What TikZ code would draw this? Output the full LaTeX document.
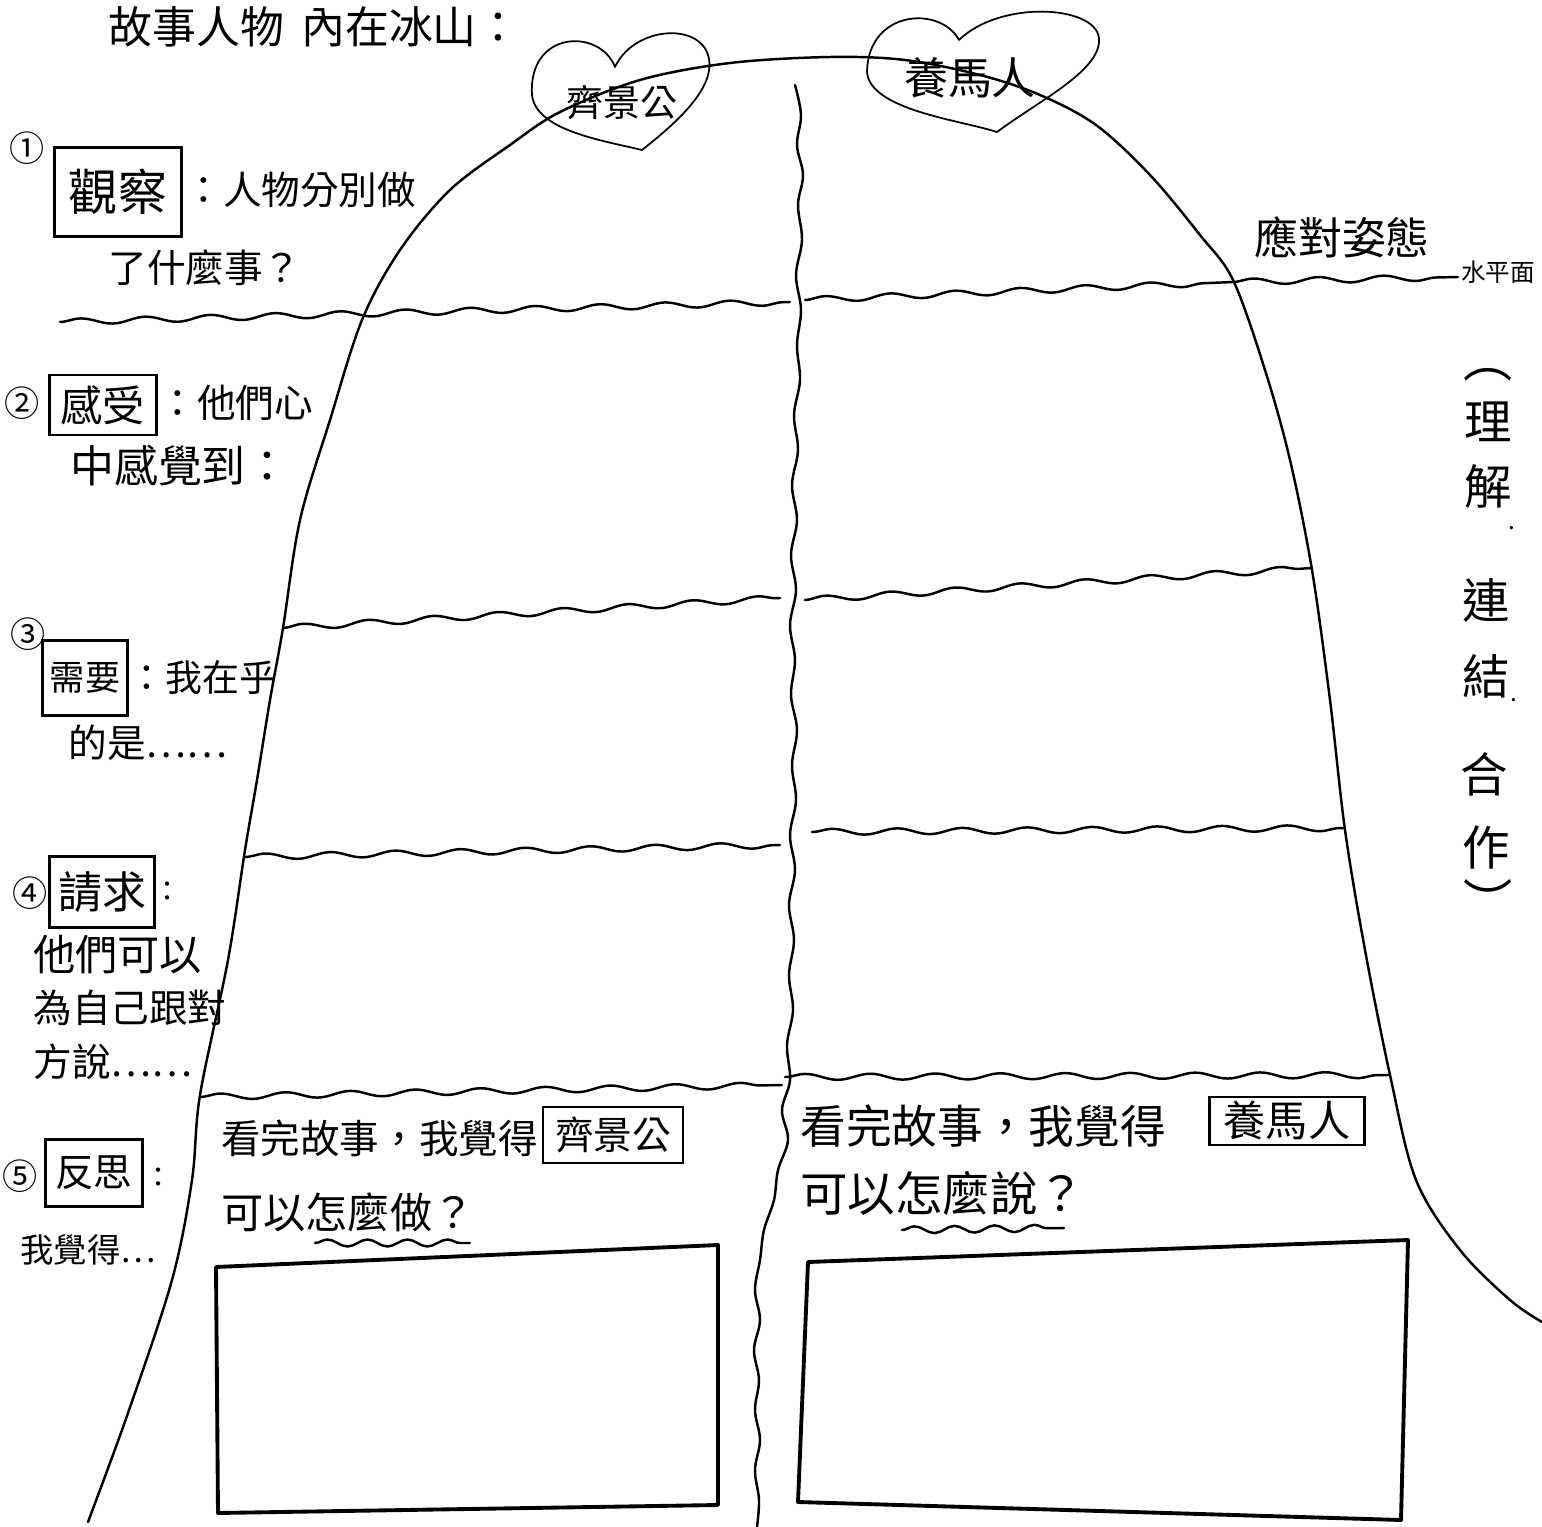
\documentclass[tikz,border=0pt]{standalone}
\usepackage{fontspec}
\setmainfont{Noto Sans CJK TC}
\usetikzlibrary{decorations.pathmorphing}
\newcommand\fsz[1]{\fontsize{#1}{#1}\selectfont}
\begin{document}
\begin{tikzpicture}[x=0.02cm,y=-0.02cm,
  ink/.style={line width=1.4pt, line cap=round, line join=round},
  thin ink/.style={line width=1pt, line cap=round, line join=round},
  wave/.style={ink, decorate, decoration={snake, amplitude=0.06cm, segment length=1.3cm}},
  uwave/.style={ink, decorate, decoration={snake, amplitude=0.07cm, segment length=0.8cm}},
  answerbox/.style={line width=2.2pt, line join=round},
  boxed/.style={draw, line width=1.6pt, inner sep=0pt},
  lbl/.style={inner sep=0pt, anchor=west},
  txt/.style={inner sep=0pt}]
\useasboundingbox (0,0) rectangle (1542,1527);
\fill[white] (0,0) rectangle (1542,1527);

% iceberg outline
\draw[ink] plot[smooth, tension=0.55] coordinates {
 (88,1522) (128,1413) (172,1280) (192,1180) (200,1095) (228,960) (245,850)
 (257,780) (270,700) (283,628) (300,520) (330,420) (362,320) (400,250)
 (450,190) (510,145) (560,112) (640,80) (730,63) (830,57) (905,60)
 (980,75) (1040,95) (1096,125) (1150,175) (1200,235) (1233,280)
 (1265,370) (1290,460) (1312,570) (1330,700) (1345,830) (1365,950)
 (1390,1075) (1416,1180) (1460,1250) (1510,1300) (1542,1322)};

% middle divider
\draw[ink] plot[smooth, tension=0.6] coordinates {
 (795,85) (801,115) (797,145) (803,175) (798,205) (802,240) (796,275) (801,310)
 (797,345) (800,380) (794,415) (798,450) (792,485) (797,520) (791,555) (796,590)
 (790,625) (795,660) (791,695) (797,730) (792,765) (796,800) (790,835) (795,870)
 (789,905) (794,940) (789,975) (793,1010) (787,1045) (790,1080) (782,1110)
 (788,1140) (778,1170) (774,1200) (764,1230) (760,1260) (755,1290) (760,1320)
 (754,1350) (759,1380) (755,1410) (760,1440) (755,1470) (759,1500) (757,1527)};

% horizontal wavy lines
\draw[wave] (60,322) -- (790,302);
\draw[wave] (805,300) -- (1233,282);
\draw[wave] (1233,282) -- (1458,277);
\draw[wave] (283,628) -- (780,598);
\draw[wave] (805,600) -- (1312,568);
\draw[wave] (245,857) -- (780,845);
\draw[wave] (812,832) -- (1345,828);
\draw[wave] (200,1097) -- (782,1085);
\draw[wave] (785,1077) -- (1390,1075);

% hearts
\draw[thin ink] (615,67) .. controls (600,28) and (528,30) .. (532,95)
  .. controls (536,130) and (600,140) .. (642,150)
  .. controls (680,120) and (722,82) .. (706,50)
  .. controls (690,22) and (632,30) .. (615,67);
\draw[thin ink] (959,40) .. controls (940,5) and (868,10) .. (867,72)
  .. controls (870,110) and (960,120) .. (997,132)
  .. controls (1040,100) and (1102,70) .. (1099,38)
  .. controls (1095,5) and (1000,0) .. (959,40);
\node[txt, font=\fsz{21pt}] (qjg) at (622,103) {齊景公};
\node[txt, font=\fsz{25pt}] (ymr) at (970,78) {養馬人};

% title
\node[inner sep=0pt, anchor=base west, font=\fsz{25pt}] (title) at (108,44) {故事人物\, 內在冰山：};

% 1
\node[txt, font=\fsz{20pt}] (c1) at (27,148) {①};
\node[boxed, font=\fsz{28pt}, minimum width=2.54cm, minimum height=1.78cm] (obs) at (118,192) {觀察};
\node[lbl, font=\fsz{22pt}] (obsa) at (184,190) {：人物分別做};
\node[txt, font=\fsz{22pt}] (obsb) at (205,268) {了什麼事？};

% 2
\node[txt, font=\fsz{20pt}] (c2) at (22,403) {②};
\node[boxed, font=\fsz{24pt}, minimum width=2.14cm, minimum height=1.2cm] (feel) at (103,405) {感受};
\node[lbl, font=\fsz{22pt}] (feela) at (158,403) {：他們心};
\node[txt, font=\fsz{25pt}] (feelb) at (180,466) {中感覺到：};

% 3
\node[txt, font=\fsz{20pt}] (c3) at (28,634) {③};
\node[boxed, font=\fsz{20pt}, minimum width=1.7cm, minimum height=1.5cm] (need) at (85,678) {需要};
\node[lbl, font=\fsz{21pt}] (needa) at (128,678) {：我在乎};
\node[lbl, font=\fsz{22pt}] (needb) at (68,743) {的是……};

% 4
\node[txt, font=\fsz{20pt}] (c4) at (30,893) {④};
\node[boxed, font=\fsz{25pt}, minimum width=2.1cm, minimum height=1.42cm] (req) at (102,892) {請求};
\node[lbl, font=\fsz{16pt}] (reqc) at (153,892) {：};
\node[lbl, font=\fsz{24pt}] (reqa) at (33,955) {他們可以};
\node[lbl, font=\fsz{22pt}] (reqb) at (33,1008) {為自己跟對};
\node[lbl, font=\fsz{22pt}] (reqd) at (33,1062) {方說……};

% 5
\node[txt, font=\fsz{20pt}] (c5) at (20,1176) {⑤};
\node[boxed, font=\fsz{22pt}, minimum width=1.94cm, minimum height=1.34cm] (refl) at (94,1173) {反思};
\node[lbl, font=\fsz{16pt}] (reflc) at (144,1178) {：};
\node[lbl, font=\fsz{19pt}] (refla) at (20,1250) {我覺得…};

% bottom left prompt
\node[lbl, font=\fsz{22.5pt}] (lq1) at (221,1138) {看完故事，我覺得};
\node[boxed, font=\fsz{22pt}, minimum width=2.8cm, minimum height=1.12cm] (lqk) at (613,1135) {齊景公};
\node[lbl, font=\fsz{24pt}] (lq2) at (221,1212) {可以怎麼做？};
\coordinate (lu1) at (315,1243);
\coordinate (lu2) at (470,1243);
\draw[uwave] (lu1) -- (lu2);

% bottom right prompt
\node[lbl, font=\fsz{26pt}] (rq1) at (800,1126) {看完故事，我覺得};
\node[boxed, font=\fsz{24pt}, minimum width=3.1cm, minimum height=0.96cm] (rqk) at (1287,1121) {養馬人};
\node[lbl, font=\fsz{27pt}] (rq2) at (800,1193) {可以怎麼說？};
\coordinate (ru1) at (902,1230);
\coordinate (ru2) at (1064,1228);
\draw[uwave] (ru1) -- (ru2);

% answer boxes
\draw[answerbox] (216,1267) -- (718,1245) -- (718,1505) -- (218,1513) -- cycle;
\draw[answerbox] (808,1262) -- (1408,1240) -- (1401,1520) -- (798,1502) -- cycle;

% right side labels
\node[txt, font=\fsz{25pt}] (coping) at (1342,237) {應對姿態};
\node[lbl, font=\fsz{14pt}] (water) at (1461,272) {水平面};

\node[txt, font=\fsz{28pt}] (v0) at (1488,375) {︵};
\node[txt, font=\fsz{27pt}] (v1) at (1488,422) {理};
\node[txt, font=\fsz{27pt}] (v2) at (1488,486) {解};
\node[txt, font=\fsz{14pt}] (d1) at (1512,528) {.};
\node[txt, font=\fsz{27pt}] (v3) at (1486,600) {連};
\node[txt, font=\fsz{27pt}] (v4) at (1486,676) {結};
\node[txt, font=\fsz{14pt}] (d2) at (1514,700) {.};
\node[txt, font=\fsz{27pt}] (v5) at (1484,774) {合};
\node[txt, font=\fsz{27pt}] (v6) at (1486,848) {作};
\node[txt, font=\fsz{28pt}] (v7) at (1488,900) {︶};
\end{tikzpicture}
\end{document}
